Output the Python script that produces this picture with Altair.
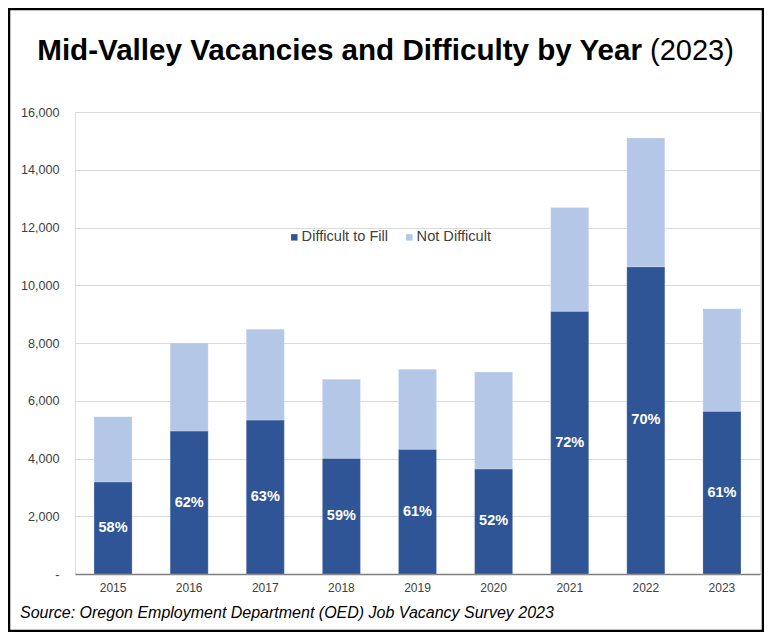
import altair as alt
import pandas as pd

years = ["2015", "2016", "2017", "2018", "2019", "2020", "2021", "2022", "2023"]
totals = [5450, 8000, 8480, 6745, 7090, 7000, 12690, 15100, 9190]
difficult = [3190, 4950, 5330, 4005, 4320, 3640, 9100, 10640, 5635]
pct_labels = ["58%", "62%", "63%", "59%", "61%", "52%", "72%", "70%", "61%"]
series = ["Difficult to Fill", "Not Difficult"]
colors = ["#2F5597", "#B4C7E7"]
title_bold = "Mid-Valley Vacancies and Difficulty by Year"
title_regular = "(2023)"
source_text = "Source: Oregon Employment Department (OED) Job Vacancy Survey 2023"

FONT = "Liberation Sans"
W, H = 685, 462

rows = []
for y, t, d in zip(years, totals, difficult):
    rows.append({"year": y, "series": series[0], "value": d, "ord": 0})
    rows.append({"year": y, "series": series[1], "value": t - d, "ord": 1})
long_df = pd.DataFrame(rows)

lab_df = pd.DataFrame({"year": years, "mid": [d / 2 for d in difficult], "label": pct_labels})
one = pd.DataFrame({"k": [0]})

xenc = alt.X("year:N", sort=years, title=None,
             scale=alt.Scale(paddingInner=0.5, paddingOuter=0.25),
             axis=alt.Axis(labelAngle=0, labelFontSize=12, labelColor="#404040",
                           labelFont=FONT, ticks=False, domainColor="#7F7F7F",
                           domainWidth=1.5, labelPadding=8))

bars = alt.Chart(long_df).mark_bar(stroke="white", strokeWidth=0.5, strokeOpacity=0.4).encode(
    x=xenc,
    y=alt.Y("value:Q", stack="zero", title=None,
            scale=alt.Scale(domain=[0, 16000], nice=False),
            axis=alt.Axis(values=list(range(0, 16001, 2000)), domain=False, ticks=False,
                          labelFontSize=12.6, labelColor="#404040", labelFont=FONT,
                          labelPadding=16, gridColor="#D9D9D9", gridWidth=1,
                          labelExpr="datum.value == 0 ? '-' : format(datum.value, ',')")),
    color=alt.Color("series:N", scale=alt.Scale(domain=series, range=colors),
                    legend=alt.Legend(title=None, orient="none", legendX=212, legendY=118,
                                      direction="horizontal", symbolType="square",
                                      symbolSize=42, symbolStrokeWidth=0,
                                      labelFontSize=14.6, labelFont=FONT, labelColor="#404040",
                                      columnPadding=13, labelOffset=0)),
    order=alt.Order("ord:Q"),
)

labels = alt.Chart(lab_df).mark_text(color="white", fontWeight="bold", fontSize=14.5,
                                     font=FONT, baseline="middle").encode(
    x=alt.X("year:N", sort=years),
    y=alt.Y("mid:Q"),
    text="label:N",
)

t1 = alt.Chart(one).mark_text(text=title_bold, font=FONT, fontSize=29.6, fontWeight="bold",
                              align="right", baseline="alphabetic", color="black").encode(
    x=alt.value(567), y=alt.value(-52))
t2 = alt.Chart(one).mark_text(text=title_regular, font=FONT, fontSize=29, fontWeight="normal",
                              align="left", baseline="alphabetic", color="black").encode(
    x=alt.value(575), y=alt.value(-52))
src = alt.Chart(one).mark_text(text=source_text, font=FONT, fontSize=16, fontStyle="italic",
                               align="left", baseline="alphabetic", color="black").encode(
    x=alt.value(-55), y=alt.value(506))
border = alt.Chart(one).mark_rect(fill=None, stroke="black", strokeWidth=2.5).encode(
    x=alt.value(-66), x2=alt.value(688), y=alt.value(-103), y2=alt.value(519))

chart = alt.layer(bars, labels, t1, t2, src, border).properties(
    width=W, height=H,
    padding={"left": 67, "top": 104, "right": 4, "bottom": 58},
    autosize=alt.AutoSizeParams(type="none"),
).configure_view(stroke=None).configure(background="white")

chart.save("out.html", embed_options={"renderer": "svg", "actions": False})
